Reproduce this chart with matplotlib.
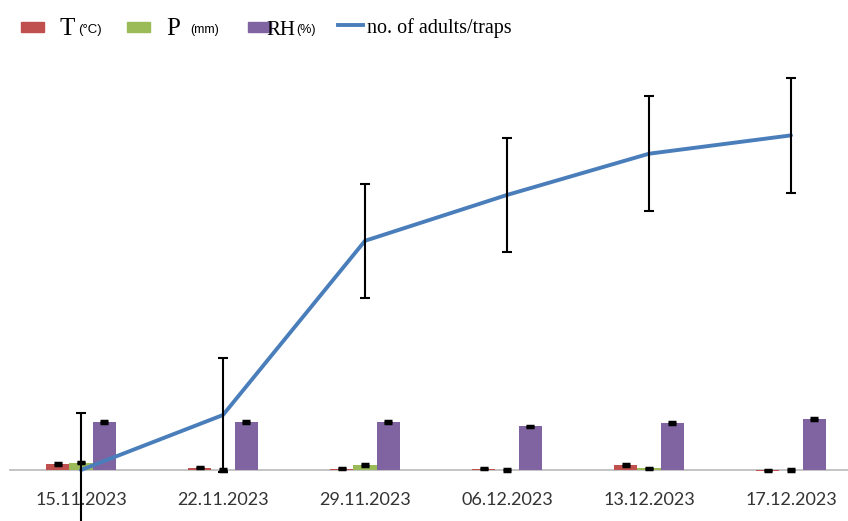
import matplotlib
matplotlib.use("Agg")
import matplotlib.pyplot as plt
import numpy as np
from matplotlib.patches import Rectangle
from matplotlib.lines import Line2D

# ---- data -------------------------------------------------------------
dates = ["15.11.2023", "22.11.2023", "29.11.2023", "06.12.2023", "13.12.2023", "17.12.2023"]

temp_c = [10.0, 4.0, 2.0, 2.0, 8.5, -1.0]
temp_err = [1.0, 1.0, 1.0, 1.0, 1.0, 1.0]

precip_mm = [12.5, 0.0, 8.5, 0.0, 3.0, 0.0]
precip_err = [1.0, 1.0, 1.0, 1.0, 1.0, 1.0]

rh_pct = [80.0, 80.0, 80.0, 73.0, 78.0, 85.0]
rh_err = [1.0, 1.0, 1.0, 1.0, 2.0, 1.0]

adults_per_trap = [0.0, 1.2, 5.0, 6.0, 6.9, 7.3]
adults_err = [1.25, 1.25, 1.25, 1.25, 1.25, 1.25]

# ---- colours ----------------------------------------------------------
C_T = "#C0504D"
C_P = "#9BBB59"
C_RH = "#8064A2"
C_LINE = "#4A7EBB"

W, H = 848, 521
fig = plt.figure(figsize=(W / 100, H / 100), dpi=100)

# axes spans the figure height; baseline sits 51 px above the bottom edge
top_px = 62
base_px = 51
ax_h = H - top_px
ax = fig.add_axes([10 / W, 0, 852 / W, ax_h / H])

bar_scale = 0.6       # px per unit on the bar axis
line_scale = 45.84    # px per unit on the line axis
ax.set_ylim(-base_px / bar_scale, (ax_h - base_px) / bar_scale)

x = np.arange(len(dates))
w = 0.164
ekw = dict(ecolor="black", elinewidth=1.2, capsize=3, capthick=2.5)
ax.bar(x - w, temp_c, w, yerr=temp_err, color=C_T, error_kw=ekw, zorder=2)
ax.bar(x, precip_mm, w, yerr=precip_err, color=C_P, error_kw=ekw, zorder=2)
ax.bar(x + w, rh_pct, w, yerr=rh_err, color=C_RH, error_kw=ekw, zorder=2)

ax.set_xlim(-0.5, len(dates) - 0.5)
for s in ("top", "left", "right"):
    ax.spines[s].set_visible(False)
ax.spines["bottom"].set_position(("data", 0))
ax.spines["bottom"].set_color("#BFBFBF")
ax.spines["bottom"].set_linewidth(1.3)
ax.spines["bottom"].set_zorder(1)
ax.set_yticks([])
ax.set_xticks(x)
ax.set_xticklabels(dates, fontfamily="Lato", fontsize=13, color="#333333")
ax.tick_params(axis="x", length=0, pad=16)

# secondary axis for the trap counts
ax2 = ax.twinx()
ax2.set_ylim(-base_px / line_scale, (ax_h - base_px) / line_scale)
for s in ax2.spines.values():
    s.set_visible(False)
ax2.set_yticks([])
ax2.plot(x, adults_per_trap, color=C_LINE, lw=2.8, solid_capstyle="round", zorder=2)
ax2.errorbar(x, adults_per_trap, yerr=adults_err, fmt="none", ecolor="black",
             elinewidth=1.5, capsize=3.3, capthick=1.5, zorder=3)

# ---- legend row -------------------------------------------------------
def fx(px):
    return px / W

def fy(py):
    return 1 - py / H

for x0, col in ((21, C_T), (127, C_P), (248, C_RH)):
    fig.patches.append(Rectangle((fx(x0), fy(32)), 23 / W, 10 / H, color=col,
                                 transform=fig.transFigure, figure=fig))
fig.lines.append(Line2D([fx(338), fx(363)], [fy(25), fy(25)], color=C_LINE, lw=2.8,
                        transform=fig.transFigure, figure=fig))

serif = "Liberation Serif"
sans = "Liberation Sans"
base_y = fy(35)
fig.text(fx(59), base_y, "T", fontfamily=serif, fontsize=18, va="baseline")
fig.text(fx(78), fy(33), "(°C)", fontfamily=sans, fontsize=9.5, va="baseline")
fig.text(fx(166), base_y, "P", fontfamily=serif, fontsize=18, va="baseline")
fig.text(fx(190), fy(33), "(mm)", fontfamily=sans, fontsize=9, va="baseline")
fig.text(fx(266), base_y, "RH", fontfamily=serif, fontsize=15, va="baseline")
fig.text(fx(296), fy(33), "(%)", fontfamily=sans, fontsize=9, va="baseline")
fig.text(fx(367), fy(33), "no. of adults/traps", fontfamily=serif, fontsize=14.5, va="baseline")

fig.savefig("out.png", dpi=100)
